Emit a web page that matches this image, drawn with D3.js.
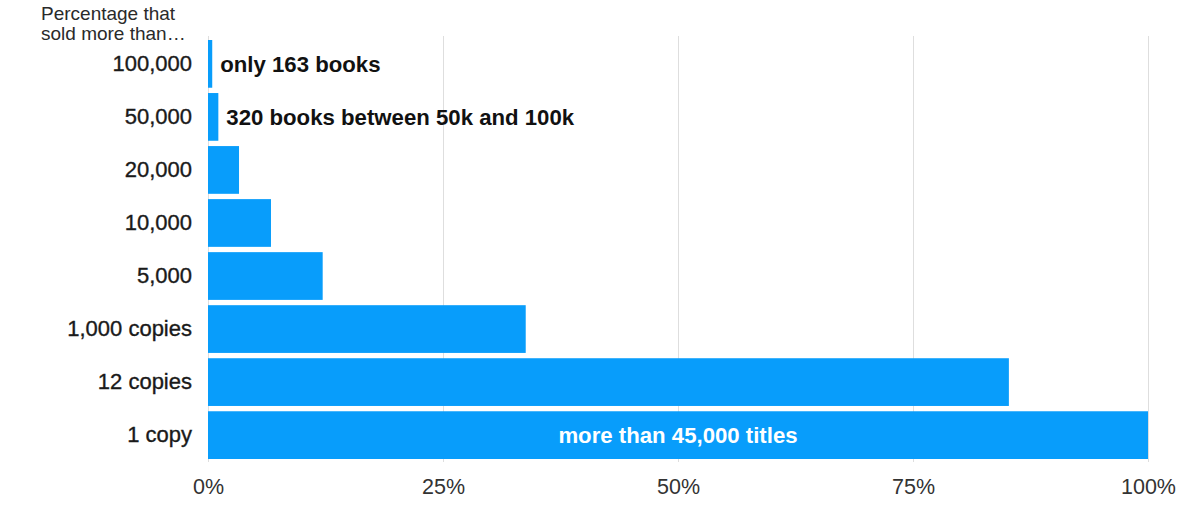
<!DOCTYPE html>
<html>
<head>
<meta charset="utf-8">
<script src="https://cdn.jsdelivr.net/npm/d3@7"></script>
<style>
  html, body { margin: 0; padding: 0; background: #fff; }
  svg { display: block; font-family: "Liberation Sans", Arial, Helvetica, sans-serif; }
</style>
</head>
<body>
<svg id="graph" width="1179" height="511"></svg>
<script>
const categories = [ "100,000", "50,000", "20,000", "10,000", "5,000", "1,000 copies", "12 copies", "1 copy" ];
const percentages = [ 0.45, 1.1, 3.3, 6.7, 12.2, 33.8, 85.2, 100 ];
const annotations = [ "only 163 books", "320 books between 50k and 100k", "", "", "", "", "", "more than 45,000 titles" ];
const xTicks = [ 0, 25, 50, 75, 100 ];
const titleLines = [ "Percentage that", "sold more than…" ];

const data = categories.map( ( c, i ) => ( { cat: c, pct: percentages[i], note: annotations[i] } ) );

const graph = d3.select( "#graph" );
const WIDTH = 1179;
const HEIGHT = 511;
const MARGINS = {
  top   : 40,
  right : 31,
  bottom: 52,
  left  : 208,
};

const xRange = d3.scaleLinear()
  .range( [ MARGINS.left, WIDTH - MARGINS.right ] )
  .domain( [ 0, 100 ] );
const yRange = d3.scaleBand()
  .range( [ MARGINS.top, HEIGHT - MARGINS.bottom ] )
  .domain( categories )
  .paddingInner( 0.1 )
  .paddingOuter( 0 );

// grid lines (incl. the 0% line)
const grid = d3.axisBottom( xRange )
  .tickValues( xTicks )
  .tickSize( -( HEIGHT - MARGINS.bottom - MARGINS.top + 7 ) )
  .tickFormat( "" );
graph.append( "g" )
  .attr( "class", "grid" )
  .attr( "transform", `translate(0,${HEIGHT - MARGINS.bottom + 3})` )
  .call( grid )
  .call( g => g.select( ".domain" ).remove() )
  .call( g => g.selectAll( "line" ).attr( "stroke", "#dedede" ).attr( "stroke-width", 1 ) );

// bars
graph.append( "g" )
  .selectAll( "rect" )
  .data( data )
  .join( "rect" )
  .attr( "x", xRange( 0 ) )
  .attr( "y", d => yRange( d.cat ) )
  .attr( "width", d => xRange( d.pct ) - xRange( 0 ) )
  .attr( "height", yRange.bandwidth() )
  .attr( "fill", "#089dfb" );

// x axis labels
const xAxis = d3.axisBottom( xRange )
  .tickValues( xTicks )
  .tickSize( 0 )
  .tickPadding( 0 )
  .tickFormat( d => `${d}%` );
graph.append( "g" )
  .attr( "class", "x axis" )
  .attr( "transform", `translate(0,${HEIGHT - 17})` )
  .call( xAxis )
  .call( g => g.select( ".domain" ).remove() )
  .call( g => g.selectAll( "text" )
    .attr( "dy", 0 )
    .attr( "fill", "#333" )
    .attr( "font-size", 21.5 )
    .attr( "font-family", "Liberation Sans, Arial, sans-serif" ) );

// y axis labels
const yAxis = d3.axisLeft( yRange ).tickSize( 0 ).tickPadding( 16 );
graph.append( "g" )
  .attr( "class", "y axis" )
  .attr( "transform", `translate(${MARGINS.left},0)` )
  .call( yAxis )
  .call( g => g.select( ".domain" ).remove() )
  .call( g => g.selectAll( "text" )
    .attr( "fill", "#1a1a1a" )
    .attr( "stroke", "#1a1a1a" )
    .attr( "stroke-width", 0.35 )
    .attr( "font-size", 22 )
    .attr( "font-family", "Liberation Sans, Arial, sans-serif" ) );

// annotations
graph.append( "g" )
  .selectAll( "text" )
  .data( data.filter( d => d.note ) )
  .join( "text" )
  .attr( "x", d => d.pct >= 100 ? ( xRange( 0 ) + xRange( d.pct ) ) / 2 : xRange( d.pct ) + 8 )
  .attr( "y", d => yRange( d.cat ) + yRange.bandwidth() / 2 )
  .attr( "dy", "0.35em" )
  .attr( "text-anchor", d => d.pct >= 100 ? "middle" : "start" )
  .attr( "fill", d => d.pct >= 100 ? "#fff" : "#111" )
  .attr( "font-size", 22.2 )
  .attr( "font-weight", "bold" )
  .text( d => d.note );

// title
graph.append( "text" )
  .attr( "x", 41 )
  .attr( "y", 20 )
  .attr( "fill", "#2a2a2a" )
  .attr( "font-size", 19 )
  .selectAll( "tspan" )
  .data( titleLines )
  .join( "tspan" )
  .attr( "x", 41 )
  .attr( "dy", ( d, i ) => i === 0 ? 0 : 19.5 )
  .text( d => d );
</script>
</body>
</html>
